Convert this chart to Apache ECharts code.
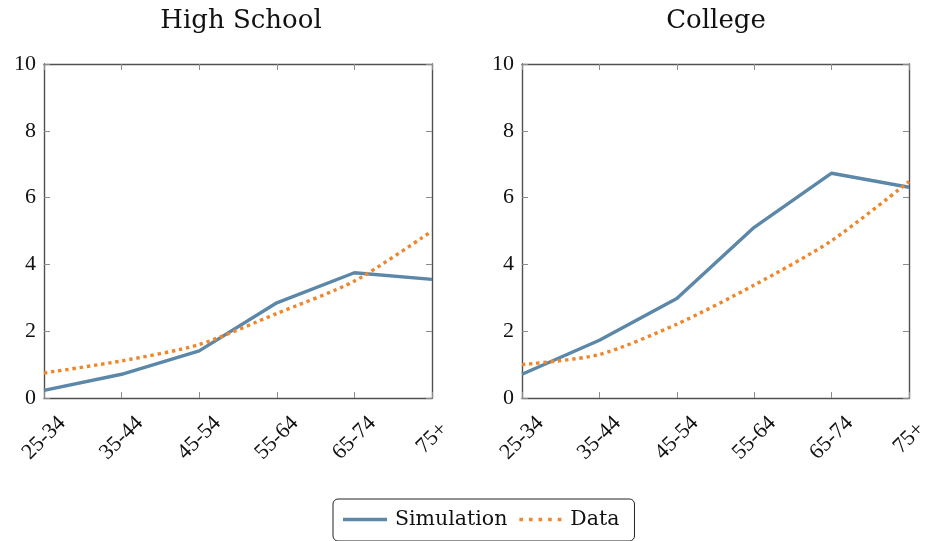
<!DOCTYPE html>
<html>
<head>
<meta charset="utf-8">
<script src="https://cdn.jsdelivr.net/npm/echarts@6/dist/echarts.min.js"></script>
<style>
  html, body { margin: 0; padding: 0; background: #fff; }
  #chart { width: 927px; height: 541px; }
</style>
</head>
<body>
<div id="chart"></div>
<script>
// Age groups along the x axis
const ageGroups = ['25-34', '35-44', '45-54', '55-64', '65-74', '75+'];
const yTicks = [0, 2, 4, 6, 8, 10];

// High School panel
const hsSimulation = [0.23, 0.71, 1.41, 2.85, 3.75, 3.55];
const hsData = [0.75, 1.11, 1.60, 2.53, 3.50, 5.00];

// College panel
const colSimulation = [0.71, 1.73, 2.98, 5.11, 6.73, 6.31];
const colData = [1.00, 1.30, 2.21, 3.38, 4.71, 6.48];

const panelTitles = ['High School', 'College'];
const seriesNames = ['Simulation', 'Data'];

const TEXT_FONT = '"DejaVu Serif", serif';
const NUM_FONT = '"Liberation Serif", serif';
const BLUE = '#5b87a8';
const ORANGE = '#f0862a';
const FRAME = '#505050';
const TICK = '#8c8c8c';

// fixed plot rectangles; labels may hang past the canvas edge
const grids = [
  { left: 44, right: 495, top: 64, bottom: 143, outerBoundsMode: 'none' },
  { left: 522, right: 18, top: 64, bottom: 143, outerBoundsMode: 'none' }
];

const frameLine = { show: true, onZero: false, lineStyle: { color: FRAME, width: 1.4 } };
const innerTick = { show: true, inside: true, length: 6, lineStyle: { color: TICK, width: 1 } };

const xAxes = [];
const yAxes = [];
grids.forEach((g, i) => {
  // bottom axis with rotated category labels
  xAxes.push({
    type: 'category', gridIndex: i, data: ageGroups, boundaryGap: false,
    position: 'bottom', axisLine: frameLine, axisTick: innerTick,
    axisLabel: {
      rotate: 45, margin: 40, align: 'center', verticalAlign: 'middle',
      color: '#111', fontFamily: NUM_FONT, fontSize: 22, interval: 0
    },
    splitLine: { show: false }
  });
  // top axis mirrors the ticks to close the frame
  xAxes.push({
    type: 'category', gridIndex: i, data: ageGroups, boundaryGap: false,
    position: 'top', axisLine: frameLine, axisTick: innerTick,
    axisLabel: { show: false }, splitLine: { show: false }
  });
  yAxes.push({
    type: 'value', gridIndex: i, min: yTicks[0], max: yTicks[yTicks.length - 1], interval: 2,
    position: 'left', axisLine: frameLine, axisTick: innerTick,
    axisLabel: { margin: 8, color: '#111', fontFamily: NUM_FONT, fontSize: 22 },
    splitLine: { show: false }
  });
  yAxes.push({
    type: 'value', gridIndex: i, min: yTicks[0], max: yTicks[yTicks.length - 1], interval: 2,
    position: 'right', axisLine: frameLine, axisTick: innerTick,
    axisLabel: { show: false }, splitLine: { show: false }
  });
});

function simSeries(data, i) {
  return {
    name: seriesNames[0], type: 'line', data: data,
    xAxisIndex: i * 2, yAxisIndex: i * 2,
    symbol: 'none', color: BLUE,
    lineStyle: { color: BLUE, width: 3.4 },
    z: 3
  };
}
function dataSeries(data, i) {
  return {
    name: seriesNames[1], type: 'line', data: data,
    xAxisIndex: i * 2, yAxisIndex: i * 2,
    symbol: 'none', color: ORANGE, smooth: 0.25,
    lineStyle: { color: ORANGE, width: 3.4, type: [3.4, 3.8], cap: 'butt' },
    z: 4
  };
}

// legend samples: solid stroke and a row of dots
const solidIcon = 'path://M0,0H44V3.4H0Z';
const dottedIcon = 'path://M0,0h3.6v3.4h-3.6z M9.6,0h3.6v3.4h-3.6z M19.2,0h3.6v3.4h-3.6z M28.8,0h3.6v3.4h-3.6z M38.4,0h3.6v3.4h-3.6z';

const chart = echarts.init(document.getElementById('chart'), null, { renderer: 'canvas' });
chart.setOption({
  animation: false,
  backgroundColor: '#fff',
  title: [
    { text: panelTitles[0], left: 236, top: 3, textAlign: 'center',
      textStyle: { fontFamily: TEXT_FONT, fontSize: 26, fontWeight: 'normal', color: '#111' } },
    { text: panelTitles[1], left: 711, top: 3, textAlign: 'center',
      textStyle: { fontFamily: TEXT_FONT, fontSize: 26, fontWeight: 'normal', color: '#111' } }
  ],
  legend: {
    data: [
      { name: seriesNames[0], icon: solidIcon },
      { name: seriesNames[1], icon: dottedIcon }
    ],
    left: 333, top: 499,
    orient: 'horizontal',
    itemWidth: 44, itemHeight: 3.4, itemGap: 12,
    padding: [10, 15, 11, 10],
    borderColor: '#222', borderWidth: 1, borderRadius: 5,
    textStyle: { fontFamily: TEXT_FONT, fontSize: 20.5, color: '#111', padding: [0, 0, 0, 3] }
  },
  grid: grids,
  xAxis: xAxes,
  yAxis: yAxes,
  series: [
    simSeries(hsSimulation, 0), dataSeries(hsData, 0),
    simSeries(colSimulation, 1), dataSeries(colData, 1)
  ]
});
</script>
</body>
</html>
